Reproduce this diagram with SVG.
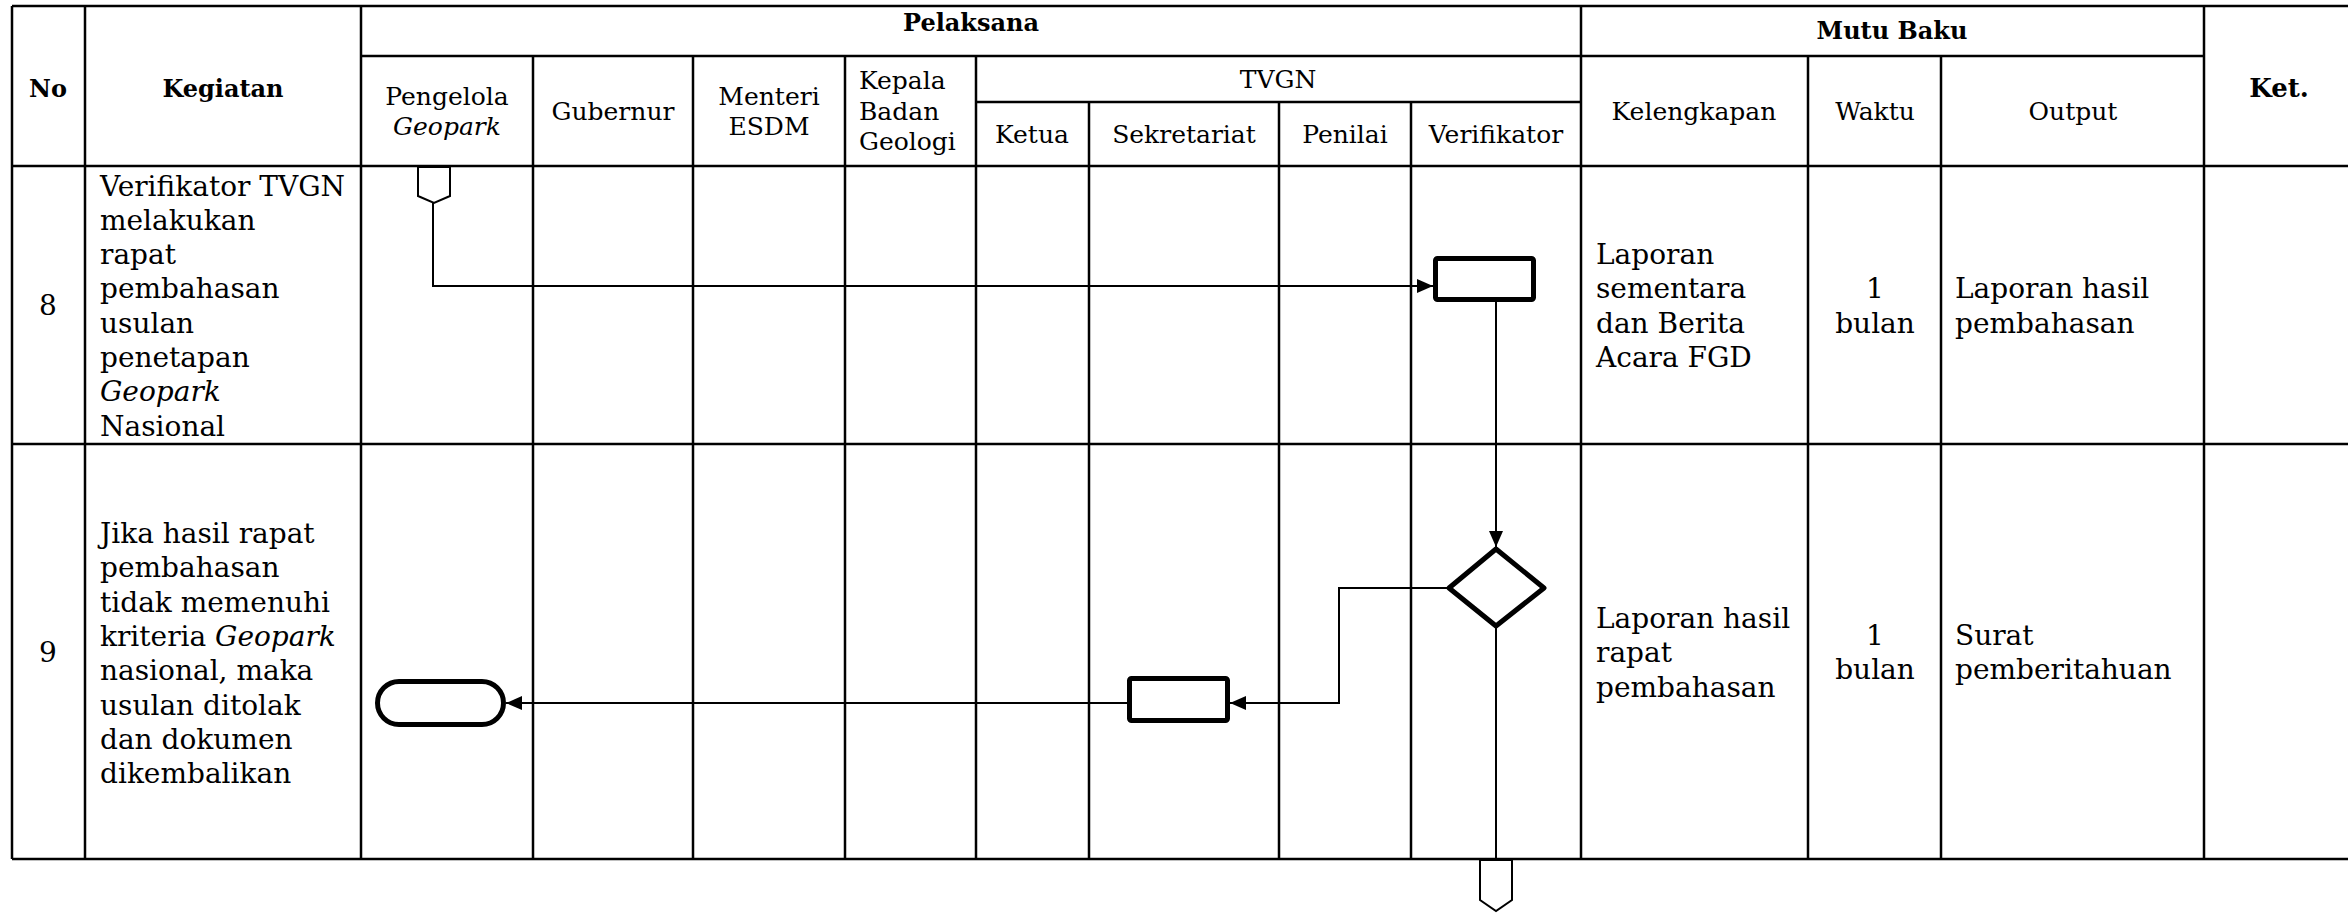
<svg xmlns="http://www.w3.org/2000/svg" width="2348" height="913" viewBox="0 0 2348 913">
<defs>
<style>
.t{font-family:"DejaVu Serif","Liberation Serif",serif;fill:#000}
.b{font-size:28px}
.h{font-size:25px}
.hb{font-size:24px;font-weight:bold}
.c{text-anchor:middle}
.i{font-style:italic}
.grid{stroke:#000;stroke-width:2.5;fill:none}
.cn{stroke:#000;stroke-width:2;fill:none}
.sh{stroke:#000;stroke-width:5;fill:#fff;stroke-linejoin:round}
.oc{stroke:#000;stroke-width:2;fill:#fff;stroke-linejoin:miter}
</style>
<marker id="ah" markerUnits="userSpaceOnUse" markerWidth="16" markerHeight="14" refX="16" refY="7" orient="auto"><path d="M0,0 L16,7 L0,14 Z" fill="#000"/></marker>
</defs>
<rect width="2348" height="913" fill="#fff"/>

<g id="table">
<path class="grid" d="M12,6 H2348 M361,56 H2204 M976,102 H1581 M12,166 H2348 M12,444 H2348 M12,859 H2348
M12,6 V859 M85,6 V859 M361,6 V859 M533,56 V859 M693,56 V859 M845,56 V859 M976,56 V859
M1089,102 V859 M1279,102 V859 M1411,102 V859 M1581,6 V859 M1808,56 V859 M1941,56 V859 M2204,6 V859"/>
</g>

<g id="header">
<text class="t hb c" x="48" y="97">No</text>
<text class="t hb c" x="223" y="97">Kegiatan</text>
<text class="t hb c" x="971" y="31">Pelaksana</text>
<text class="t hb c" x="1892" y="39">Mutu Baku</text>
<text class="t c" x="2279" y="97" style="font-size:26px;font-weight:bold">Ket.</text>
<text class="t h c" x="447" y="105">Pengelola</text>
<text class="t h c i" x="447" y="135">Geopark</text>
<text class="t h c" x="613" y="120">Gubernur</text>
<text class="t h c" x="769" y="105">Menteri</text>
<text class="t h c" x="769" y="135">ESDM</text>
<text class="t h" x="859" y="89">Kepala</text>
<text class="t h" x="859" y="120">Badan</text>
<text class="t h" x="859" y="150">Geologi</text>
<text class="t h c" x="1278" y="88">TVGN</text>
<text class="t h c" x="1032" y="143">Ketua</text>
<text class="t h c" x="1184" y="143">Sekretariat</text>
<text class="t h c" x="1345" y="143">Penilai</text>
<text class="t h c" x="1496" y="143">Verifikator</text>
<text class="t h c" x="1694" y="120">Kelengkapan</text>
<text class="t h c" x="1875" y="120">Waktu</text>
<text class="t h c" x="2073" y="120">Output</text>
</g>

<g id="row8">
<text class="t b c" x="48" y="315">8</text>
<text class="t b" x="100" y="196">Verifikator TVGN</text>
<text class="t b" x="100" y="230">melakukan</text>
<text class="t b" x="100" y="264">rapat</text>
<text class="t b" x="100" y="298">pembahasan</text>
<text class="t b" x="100" y="333">usulan</text>
<text class="t b" x="100" y="367">penetapan</text>
<text class="t b i" x="100" y="401">Geopark</text>
<text class="t b" x="100" y="436">Nasional</text>
<text class="t b" x="1596" y="264">Laporan</text>
<text class="t b" x="1596" y="298">sementara</text>
<text class="t b" x="1596" y="333">dan Berita</text>
<text class="t b" x="1596" y="367">Acara FGD</text>
<text class="t b c" x="1875" y="298">1</text>
<text class="t b c" x="1875" y="333">bulan</text>
<text class="t b" x="1955" y="298">Laporan hasil</text>
<text class="t b" x="1955" y="333">pembahasan</text>
</g>

<g id="row9">
<text class="t b c" x="48" y="662">9</text>
<text class="t b" x="100" y="543">Jika hasil rapat</text>
<text class="t b" x="100" y="577">pembahasan</text>
<text class="t b" x="100" y="612">tidak memenuhi</text>
<text class="t b" x="100" y="646">kriteria <tspan class="i">Geopark</tspan></text>
<text class="t b" x="100" y="680">nasional, maka</text>
<text class="t b" x="100" y="715">usulan ditolak</text>
<text class="t b" x="100" y="749">dan dokumen</text>
<text class="t b" x="100" y="783">dikembalikan</text>
<text class="t b" x="1596" y="628">Laporan hasil</text>
<text class="t b" x="1596" y="662">rapat</text>
<text class="t b" x="1596" y="697">pembahasan</text>
<text class="t b c" x="1875" y="645">1</text>
<text class="t b c" x="1875" y="679">bulan</text>
<text class="t b" x="1955" y="645">Surat</text>
<text class="t b" x="1955" y="679">pemberitahuan</text>
</g>

<g id="connectors">
<path class="cn" d="M433,203 V286 H1433" marker-end="url(#ah)"/>
<path class="cn" d="M1496,302 V547" marker-end="url(#ah)"/>
<path class="cn" d="M1448,588 H1339 V703 H1230" marker-end="url(#ah)"/>
<path class="cn" d="M1127,703 H506" marker-end="url(#ah)"/>
<path class="cn" d="M1496,628 V860"/>
</g>

<g id="node-start-offpage">
<polygon class="oc" points="418,167 450,167 450,196 434,203 418,196"/>
</g>
<g id="node-verifikator-process">
<rect class="sh" x="1435.5" y="258.5" width="98" height="41" rx="2"/>
</g>
<g id="node-decision">
<polygon class="sh" points="1496,549 1544,588 1496,626 1449,588"/>
</g>
<g id="node-sekretariat-process">
<rect class="sh" x="1129.5" y="678.5" width="98" height="42" rx="2"/>
</g>
<g id="node-end">
<rect class="sh" x="377.5" y="681.5" width="126" height="43" rx="21.5"/>
</g>
<g id="node-end-offpage">
<polygon class="oc" points="1480,860 1512,860 1512,900 1496,911 1480,900"/>
</g>
</svg>
